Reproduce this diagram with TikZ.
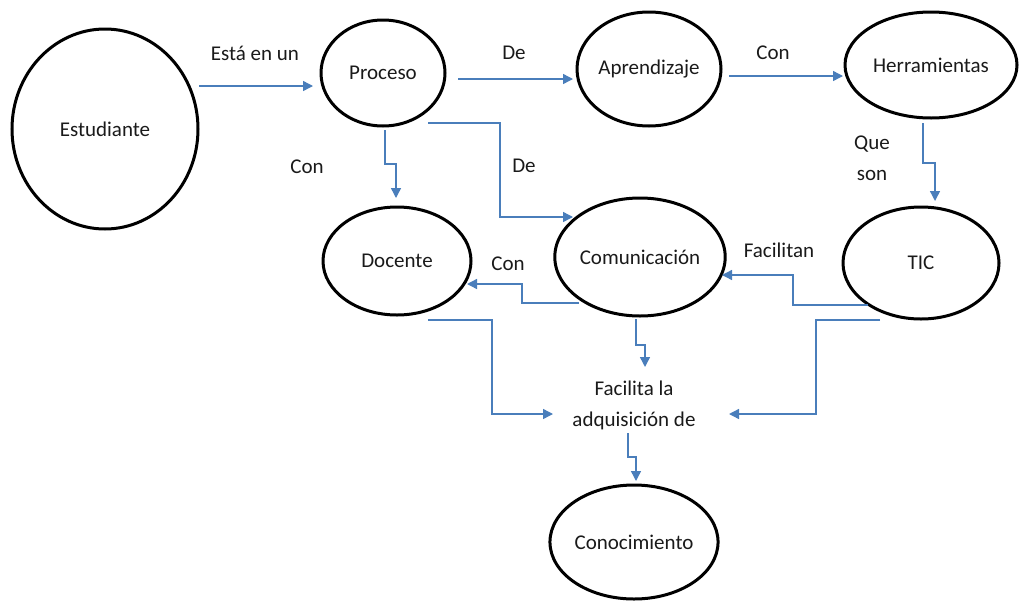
\documentclass[tikz,border=0pt]{standalone}
\usepackage{fontspec}
\setmainfont{Carlito}
\usetikzlibrary{arrows.meta,shapes.geometric}
\definecolor{connblue}{HTML}{4A7EBB}
\definecolor{ink}{HTML}{1A1A1A}
\begin{document}
\begin{tikzpicture}[x=1pt,y=-1pt,
  every node/.style={font=\fontsize{21}{31}\selectfont, text=ink},
  concept/.style={draw=black, line width=3pt, ellipse, inner sep=0pt},
  conn/.style={draw=connblue, line width=1.4pt, -{Triangle[length=10pt,width=10pt]}},
  lbl/.style={inner sep=0pt}]
\useasboundingbox (0,0) rectangle (1019,600);
% concepts
\node[concept, minimum width=186pt, minimum height=200pt] (estu) at (105,129) {Estudiante};
\node[concept, minimum width=124pt, minimum height=106pt] (proc) at (383,73) {Proceso};
\node[concept, minimum width=144pt, minimum height=114pt] (apre) at (649,69) {Aprendizaje};
\node[concept, minimum width=172pt, minimum height=106pt] (herr) at (931,65) {Herramientas};
\node[concept, minimum width=148pt, minimum height=108pt] (doce) at (397,261) {Docente};
\node[concept, minimum width=164pt, minimum height=118pt] (comu) at (640,257) {Comunicación};
\node[concept, minimum width=156pt, minimum height=112pt] (tic) at (921,263) {TIC};
\node[concept, minimum width=156pt, minimum height=114pt] (cono) at (634,542) {Conocimiento};
\node[align=center, inner sep=0pt] (faci) at (634,405) {Facilita la\\adquisición de};
% labels
\node[lbl] (l1) at (255,53) {Está en un};
\node[lbl] (l2) at (514,53) {De};
\node[lbl] (l3) at (773,53) {Con};
\node[lbl] (l4) at (307,167) {Con};
\node[lbl] (l5) at (524,166) {De};
\node[lbl, align=center] (l6) at (872,158) {Que\\son};
\node[lbl] (l7) at (779,250) {Facilitan};
\node[lbl] (l8) at (508,264) {Con};
% connectors
\draw[conn] ([shift={(94,-43)}]estu.center) -- ([shift={(-70,13)}]proc.center);
\draw[conn] ([shift={(75,6)}]proc.center) -- ([shift={(-76,10)}]apre.center);
\draw[conn] ([shift={(80,7)}]apre.center) -- ([shift={(-88,11)}]herr.center);
\draw[conn] ([shift={(2,57)}]proc.center) -- ++(0,34) -- ++(11,0) -- ([shift={(-1,-63)}]doce.center);
\draw[conn] ([shift={(45,50)}]proc.center) -- ++(72,0) |- ([shift={(-67,-40)}]comu.center);
\draw[conn] ([shift={(-8,58)}]herr.center) -- ++(0,40) -- ++(12,0) -- ([shift={(14,-62)}]tic.center);
\draw[conn] ([shift={(-53,42)}]tic.center) -- ++(-75,0) |- ([shift={(82,18)}]comu.center);
\draw[conn] ([shift={(-61,46)}]comu.center) -- ++(-57,0) |- ([shift={(70,23)}]doce.center);
\draw[conn] ([shift={(31,59)}]doce.center) -- ++(64,0) |- ([shift={(-81,9)}]faci.center);
\draw[conn] ([shift={(-4,62)}]comu.center) -- ++(0,26) -- ++(9,0) -- ([shift={(11,-38)}]faci.center);
\draw[conn] ([shift={(-41,57)}]tic.center) -- ++(-64,0) |- ([shift={(95,9)}]faci.center);
\draw[conn] ([shift={(-6,28)}]faci.center) -- ++(0,24) -- ++(8,0) -- ([shift={(2,-61)}]cono.center);
\end{tikzpicture}
\end{document}
